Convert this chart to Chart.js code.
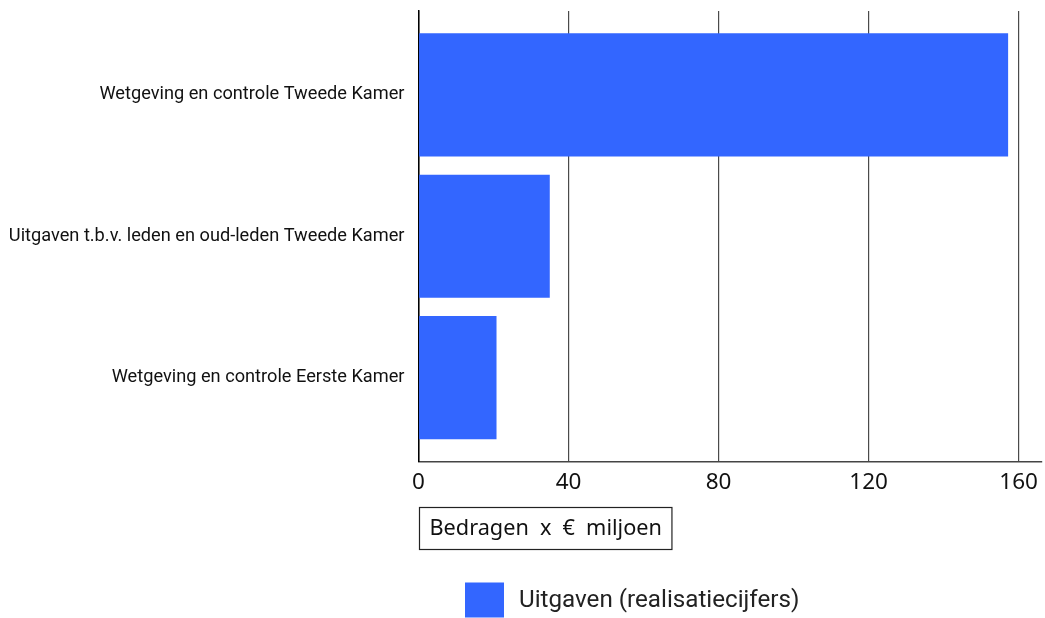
<!DOCTYPE html>
<html>
<head>
<meta charset="utf-8">
<script src="https://cdn.jsdelivr.net/npm/chart.js@4.4.1/dist/chart.umd.min.js"></script>
<style>
  html, body { margin: 0; padding: 0; background: #fff; }
  #wrap { width: 1045px; height: 618px; }
</style>
</head>
<body>
<div id="wrap"><canvas id="uitgavenChart"></canvas></div>
<script>
var categories = [
    "Wetgeving en controle Tweede Kamer",
    "Uitgaven t.b.v. leden en oud-leden Tweede Kamer",
    "Wetgeving en controle Eerste Kamer"
];
var uitgaven = [157.2, 35, 20.8];
var xTicks = [0, 40, 80, 120, 160];
var seriesLabel = "Uitgaven (realisatiecijfers)";
var axisTitle = "Bedragen x € miljoen";
var barColor = "#3366ff";

// axis title in a box and the legend, under the x axis
var bottomBoxes = {
    id: 'bottomBoxes',
    afterDraw: function (chart) {
        var ctx = chart.ctx;
        var area = chart.chartArea;
        ctx.save();
        ctx.wordSpacing = '5.5px';
        ctx.font = '21.7px "Noto Sans"';
        var w = ctx.measureText(axisTitle).width;
        var bx = Math.round(area.left), by = Math.round(area.bottom) + 45;
        ctx.strokeStyle = '#222';
        ctx.lineWidth = 1.2;
        ctx.strokeRect(bx + 0.5, by + 0.5, w + 20, 42);
        ctx.fillStyle = '#111';
        ctx.textBaseline = 'middle';
        ctx.fillText(axisTitle, bx + 10.5, by + 22);

        ctx.wordSpacing = '0px';
        var lx = area.left + 46.5, ly = area.bottom + 121;
        ctx.fillStyle = barColor;
        ctx.fillRect(lx, ly, 39, 35);
        ctx.font = '24.2px Roboto';
        ctx.fillStyle = '#222';
        ctx.fillText(seriesLabel, lx + 54, ly + 18.5);
        ctx.restore();
    }
};

new Chart(document.getElementById("uitgavenChart"), {
    type: 'bar',
    data: {
        datasets: [
            {
                label: seriesLabel,
                backgroundColor: barColor,
                data: uitgaven.map(function (v, i) { return { x: v, y: i }; }),
                categoryPercentage: 0.871,
                barPercentage: 1
            }
        ]
    },
    options: {
        indexAxis: 'y',
        responsive: true,
        maintainAspectRatio: false,
        animation: false,
        devicePixelRatio: 1,
        layout: { padding: { top: 11, right: 3.5, left: 0, bottom: 0 } },
        plugins: {
            legend: { display: false },
            tooltip: { enabled: false }
        },
        scales: {
            x: {
                type: 'linear',
                position: 'bottom',
                min: 0,
                max: 166.1,
                afterBuildTicks: function (scale) {
                    scale.ticks = xTicks.map(function (v) { return { value: v }; });
                },
                afterFit: function (scale) {
                    scale.height = 156.5;
                    scale.paddingLeft = 0;
                    scale.paddingRight = 0;
                },
                grid: { color: '#4a4a4a', lineWidth: 1.2, drawTicks: false },
                border: { color: '#444', width: 1.5 },
                ticks: {
                    padding: 8,
                    color: '#111',
                    font: { family: '"Noto Sans"', size: 22.5 }
                }
            },
            y: {
                type: 'linear',
                reverse: true,
                offset: false,
                min: -0.593,
                max: 2.593,
                afterBuildTicks: function (scale) {
                    scale.ticks = categories.map(function (c, i) { return { value: i }; });
                },
                afterFit: function (scale) {
                    scale.width = 418.5;
                    scale.paddingTop = 0;
                    scale.paddingBottom = 0;
                },
                grid: { display: false, offset: false, drawTicks: false, tickLength: 0 },
                border: { color: '#000', width: 1.5 },
                ticks: {
                    autoSkip: false,
                    padding: 14,
                    color: '#111',
                    font: { family: 'Roboto', size: 18.2 },
                    callback: function (v) { return categories[v]; }
                }
            }
        }
    },
    plugins: [bottomBoxes]
});
</script>
</body>
</html>
